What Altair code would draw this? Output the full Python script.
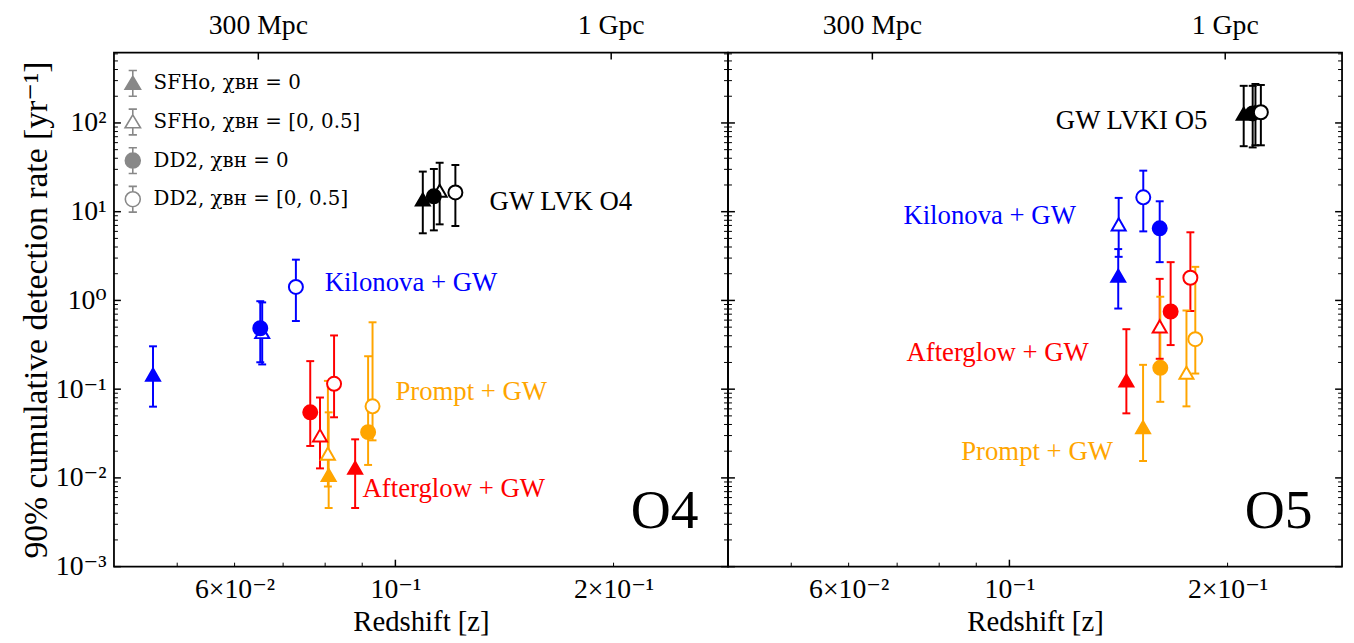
import altair as alt
import pandas as pd

FONT = "Liberation Serif, DejaVu Serif, serif"
LEGEND_FONT = "DejaVu Serif, Liberation Serif, serif"
W, H = 620, 519
ZDOM = [0.0409, 0.2877]
YDOM = [1e-3, 620]

channels = ["Kilonova", "Afterglow", "Prompt", "GW"]
models = ["SFHo, χʙʜ = 0", "SFHo, χʙʜ = [0, 0.5]", "DD2, χʙʜ = 0", "DD2, χʙʜ = [0, 0.5]"]

# values ordered channel-major (Kilonova, Afterglow, Prompt, GW) x model order above
o4_z = [0.0463, 0.0655, 0.0651, 0.0729,
        0.0880, 0.0787, 0.0763, 0.0823,
        0.0809, 0.0807, 0.0917, 0.0930,
        0.1091, 0.1151, 0.1130, 0.1210]
o4_rate = [0.146, 0.44, 0.486, 1.42,
           0.0130, 0.0301, 0.0548, 0.115,
           0.0108, 0.0188, 0.0328, 0.064,
           13.7, 17.2, 14.9, 16.5]
o4_lo = [0.0635, 0.19, 0.201, 0.586,
         0.00458, 0.0128, 0.0229, 0.0482,
         0.00458, 0.0080, 0.0140, 0.0265,
         5.71, 7.2, 6.16, 6.9]
o4_hi = [0.304, 0.95, 0.98, 2.88,
         0.0272, 0.0805, 0.207, 0.403,
         0.0548, 0.124, 0.235, 0.567,
         28.3, 35.6, 30.3, 33.6]

o5_z = [0.1413, 0.1415, 0.1612, 0.1530,
        0.1450, 0.1612, 0.1669, 0.1777,
        0.1529, 0.1755, 0.1615, 0.1805,
        0.2105, 0.2185, 0.2166, 0.2223]
o5_rate = [1.90, 7.2, 6.5, 14.5,
           0.125, 0.51, 0.75, 1.8,
           0.0373, 0.153, 0.174, 0.366,
           127, 134, 128, 132]
o5_lo = [0.81, 3.1, 2.7, 6.0,
         0.0534, 0.22, 0.314, 0.76,
         0.0155, 0.064, 0.072, 0.15,
         54.7, 56, 53, 56]
o5_hi = [3.79, 14.3, 13.1, 29.0,
         0.474, 1.75, 2.7, 5.86,
         0.188, 0.77, 1.1, 2.39,
         262, 275, 262, 268]

# annotations
o4_ann_text = ["Kilonova + GW", "Prompt + GW", "Afterglow + GW", "GW LVK O4"]
o4_ann_channel = ["Kilonova", "Prompt", "Afterglow", "GW"]
o4_ann_z = [0.0799, 0.1000, 0.0901, 0.1349]
o4_ann_rate = [1.585, 0.0917, 0.00741, 13.0]
o5_ann_text = ["GW LVKI O5", "Kilonova + GW", "Afterglow + GW", "Prompt + GW"]
o5_ann_channel = ["GW", "Kilonova", "Afterglow", "Prompt"]
o5_ann_z = [0.1159, 0.0714, 0.0721, 0.0858]
o5_ann_rate = [104, 8.83, 0.256, 0.0196]
run_label_z = 0.262
run_label_rate = 0.0042

# axis ticks / labels
x_label_vals = [0.06, 0.1, 0.2]
x_label_text = ["6×10⁻²", "10⁻¹", "2×10⁻¹"]
x_major = [0.1]
x_minor = [0.05, 0.06, 0.07, 0.08, 0.09, 0.2]
y_major = [1e-3, 1e-2, 1e-1, 1.0, 10.0, 100.0]
y_major_text = ["10⁻³", "10⁻²", "10⁻¹", "10⁰", "10¹", "10²"]
y_minor = [m * 10.0 ** e for e in range(-3, 3) for m in range(2, 10) if m * 10.0 ** e <= YDOM[1]]
top_z = [0.0647, 0.1985]
top_text = ["300 Mpc", "1 Gpc"]

# styles
channel_color = {"Kilonova": "#0000ff", "Afterglow": "#ff0000", "Prompt": "#ffa500", "GW": "#000000"}
model_shape = {models[0]: "triangle-up", models[1]: "triangle-up", models[2]: "circle", models[3]: "circle"}
model_filled = {models[0]: True, models[1]: False, models[2]: True, models[3]: False}
GRAY = "#888888"
TRI = "M0,-1L0,-0.55M-0.32,-1L0.32,-1M0,0.45L0,1M-0.32,1L0.32,1M0,-0.55L0.6,0.45L-0.6,0.45Z"
CIRC = ("M0,-1L0,-0.58M-0.32,-1L0.32,-1M0,0.58L0,1M-0.32,1L0.32,1"
        "M0.58,0A0.58,0.58 0 1,1 -0.58,0A0.58,0.58 0 1,1 0.58,0Z")
legend_paths = [TRI, TRI, CIRC, CIRC]
legend_fills = [GRAY, "#ffffff", GRAY, "#ffffff"]


def build_df(zs, rs, los, his):
    rows = []
    for i, (z, r, lo, hi) in enumerate(zip(zs, rs, los, his)):
        ch = channels[i // 4]
        m = models[i % 4]
        col = channel_color[ch]
        rows.append({"channel": ch, "model": m, "z": z, "rate": r, "lo": lo, "hi": hi,
                     "color": col, "shape": model_shape[m],
                     "fill": col if model_filled[m] else "#ffffff"})
    return pd.DataFrame(rows)


def label_expr(vals, labels):
    parts = [f"abs(log(datum.value) - log({v})) < 0.01 ? '{l}'" for v, l in zip(vals, labels)]
    return " : ".join(parts) + " : ''"


def panel(df, ann_text, ann_channel, ann_z, ann_rate, run_name, show_y, show_legend):
    xs = alt.Scale(type="log", domain=ZDOM, nice=False)
    ys = alt.Scale(type="log", domain=YDOM, nice=False)
    xaxis = alt.Axis(values=x_label_vals, labelExpr=label_expr(x_label_vals, x_label_text),
                     title="Redshift [z]", ticks=False, domain=False, grid=False,
                     labelFontSize=28, labelPadding=9, titleFontSize=29, titlePadding=4,
                     labelFlush=False, labelOverlap=False)
    if show_y:
        yaxis = alt.Axis(values=y_major, labelExpr=label_expr(y_major, y_major_text),
                         title="90% cumulative detection rate [yr⁻¹]", ticks=False, domain=False,
                         grid=False, labelFontSize=28, labelPadding=8, titleFontSize=34,
                         titlePadding=9, labelFlush=False, labelOverlap=False,
                         minExtent=52, maxExtent=52)
    else:
        yaxis = None

    X = lambda f: alt.X(f, scale=xs, axis=xaxis)
    Y = lambda f: alt.Y(f, scale=ys, axis=yaxis)

    bars = alt.Chart(df).mark_rule(strokeWidth=2).encode(
        x=X("z:Q"), y=Y("lo:Q"), y2="hi:Q",
        color=alt.Color("color:N", scale=None),
    )
    caps = alt.Chart(df).transform_fold(["lo", "hi"], as_=["end", "val"]).mark_point(
        shape="M-1,0L1,0", size=64, strokeWidth=2, opacity=1
    ).encode(x=X("z:Q"), y=Y("val:Q"), stroke=alt.Stroke("color:N", scale=None))
    pts = alt.Chart(df).mark_point(size=200, strokeWidth=2, opacity=1).encode(
        x=X("z:Q"), y=Y("rate:Q"),
        shape=alt.Shape("shape:N", scale=None),
        fill=alt.Fill("fill:N", scale=None),
        stroke=alt.Stroke("color:N", scale=None),
    )
    ann_df = pd.DataFrame({"text": ann_text, "z": ann_z, "rate": ann_rate,
                           "color": [channel_color[c] for c in ann_channel]})
    ann = alt.Chart(ann_df).mark_text(font=FONT, fontSize=27, align="left", baseline="middle").encode(
        x=X("z:Q"), y=Y("rate:Q"), text="text:N", color=alt.Color("color:N", scale=None))
    big = alt.Chart(pd.DataFrame({"text": [run_name], "z": [run_label_z], "rate": [run_label_rate]})).mark_text(
        font=FONT, fontSize=56, align="right", baseline="middle", color="black"
    ).encode(x=X("z:Q"), y=Y("rate:Q"), text="text:N")

    def yt(vals, x0, x1, sw):
        return alt.Chart(pd.DataFrame({"v": vals})).mark_rule(strokeWidth=sw, color="black").encode(
            y=Y("v:Q"), x=alt.value(x0), x2=alt.value(x1))

    def xt(vals, y0, y1, sw):
        return alt.Chart(pd.DataFrame({"v": vals})).mark_rule(strokeWidth=sw, color="black").encode(
            x=X("v:Q"), y=alt.value(y0), y2=alt.value(y1))

    ticks = [yt(y_major, 0, 7, 1.5), yt(y_minor, 0, 4, 1), yt(y_major, W - 7, W, 1.5), yt(y_minor, W - 4, W, 1),
             xt(x_major, H - 7, H, 1.5), xt(x_minor, H - 4, H, 1), xt(top_z, 0, 7, 1.5)]

    top_df = pd.DataFrame({"z": top_z, "text": top_text})
    top_labels = alt.Chart(top_df).mark_text(font=FONT, fontSize=28, align="center", baseline="middle",
                                             color="black").encode(
        x=X("z:Q"), y=alt.value(-27), text="text:N")

    layers = [bars, caps, pts, ann, big, top_labels] + ticks
    if show_legend:
        L = alt.Legend(title=None, orient="none", legendX=5, legendY=17, labelFont=LEGEND_FONT,
                       labelFontSize=20, labelColor="black", labelLimit=500, symbolSize=676, rowPadding=5,
                       labelOffset=7, symbolStrokeWidth=1.6, symbolStrokeColor=GRAY, symbolOpacity=1,
                       padding=0)
        leg = alt.Chart(df).transform_filter("datum.z < 0").mark_point(
            size=676, stroke=GRAY, strokeWidth=1.6, opacity=1
        ).encode(
            x=X("z:Q"), y=Y("rate:Q"),
            shape=alt.Shape("model:N", scale=alt.Scale(domain=models, range=legend_paths), legend=L),
            fill=alt.Fill("model:N", scale=alt.Scale(domain=models, range=legend_fills), legend=L),
            stroke=alt.Stroke("model:N", scale=alt.Scale(domain=models, range=[GRAY] * 4), legend=L),
        )
        layers.append(leg)
    return alt.layer(*layers).properties(width=W, height=H)


df4 = build_df(o4_z, o4_rate, o4_lo, o4_hi)
df5 = build_df(o5_z, o5_rate, o5_lo, o5_hi)

p4 = panel(df4, o4_ann_text, o4_ann_channel, o4_ann_z, o4_ann_rate, "O4", True, True)
p5 = panel(df5, o5_ann_text, o5_ann_channel, o5_ann_z, o5_ann_rate, "O5", False, False)

chart = alt.hconcat(p4, p5, spacing=0, bounds="flush").resolve_scale(
    shape="independent", fill="independent", stroke="independent"
).resolve_legend(shape="independent", fill="independent", stroke="independent").configure(
    padding={"left": 11, "top": 0, "right": 2, "bottom": 0}, background="white", font=FONT
).configure_view(stroke="black", strokeWidth=1.8).configure_axis(
    labelColor="black", titleColor="black", labelFont=FONT, titleFont=FONT, titleFontWeight="normal"
)

chart.save("out.html", embed_options={"renderer": "svg", "actions": False})
